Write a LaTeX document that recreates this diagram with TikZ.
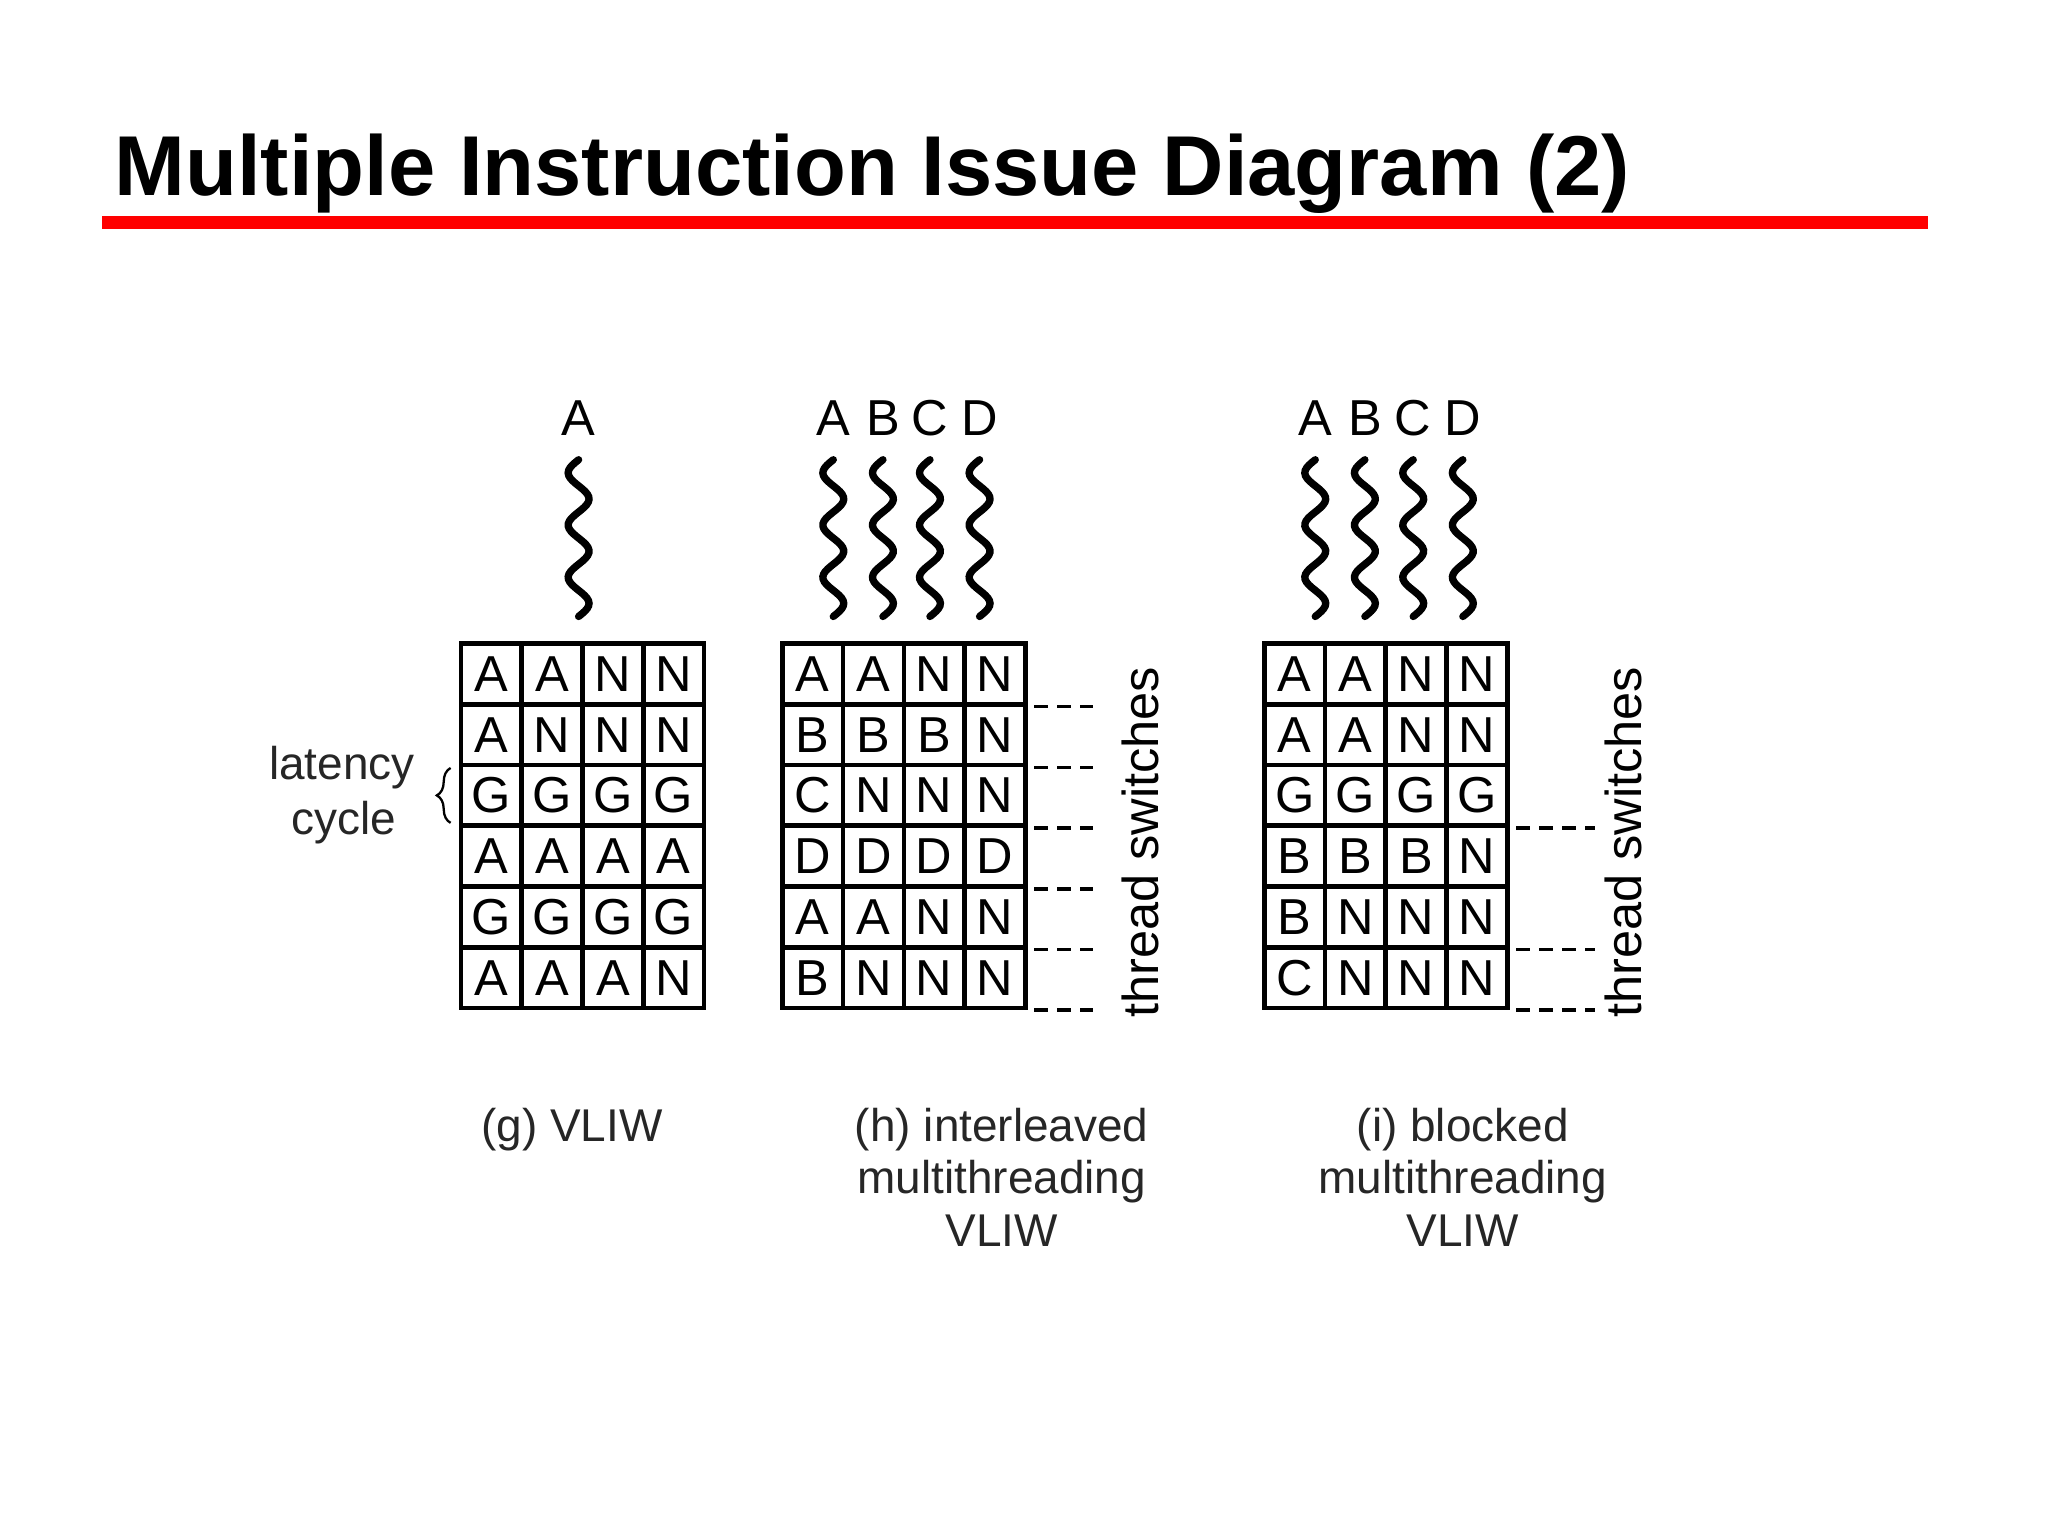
\documentclass[tikz,border=0pt]{standalone}
\usepackage{fontspec}
\setmainfont{Liberation Sans}
\usetikzlibrary{decorations.pathreplacing}
\begin{document}
\begin{tikzpicture}[x=0.01cm,y=-0.01cm,
  cell/.style={draw,line width=1pt,minimum size=0.465cm,inner sep=0pt,font=\fontsize{11pt}{12pt}\selectfont},
  gray cell/.style={cell,fill=black!20},
  lbl/.style={font=\fontsize{11pt}{12pt}\selectfont},
  captxt/.style={font=\fontsize{10pt}{11.4pt}\selectfont,align=center,text=black!85},
  sw/.style={line width=0.8pt,dash pattern=on 3pt off 2pt},
  wave/.style={line width=1.6pt,line cap=round}]
\useasboundingbox (0,0) rectangle (1568,1176);
\node[anchor=base west,font=\fontsize{18.5pt}{20pt}\selectfont\bfseries,inner sep=0] (title) at (87,150) {Multiple Instruction Issue Diagram (2)};
\fill[red] (78,165) rectangle (1476,175);
% grids
\def\grid#1#2#3{%
  \foreach \row [count=\r from 0] in {#3}{
    \foreach \c [count=\k from 0] in \row{
      \ifx\c G
        \node[gray cell] (#1-\r-\k) at ({#2+23.25+46.5*\k},{516+46.5*\r}) {};
      \else
        \node[cell] (#1-\r-\k) at ({#2+23.25+46.5*\k},{516+46.5*\r}) {\c};
      \fi
    }}}
\grid{g}{353}{{A,A,N,N},{A,N,N,N},{G,G,G,G},{A,A,A,A},{G,G,G,G},{A,A,A,N}}
\grid{h}{599}{{A,A,N,N},{B,B,B,N},{C,N,N,N},{D,D,D,D},{A,A,N,N},{B,N,N,N}}
\grid{i}{968}{{A,A,N,N},{A,A,N,N},{G,G,G,G},{B,B,B,N},{B,N,N,N},{C,N,N,N}}
% thread letters and waves
\node[lbl] (tgA) at (443,320) {A};
\draw[wave] plot[domain=0:120,samples=60] ({443-8*sin(\x*9)},{352+\x});
\foreach \n/\xx in {A/638,B/676,C/712,D/750}{
  \node[lbl] (th\n) at (\xx,320) {\n};
  \draw[wave] plot[domain=0:120,samples=60] ({\xx-8*sin(\x*9)},{352+\x});
}
\foreach \n/\xx in {A/1007,B/1045,C/1082,D/1120}{
  \node[lbl] (ti\n) at (\xx,320) {\n};
  \draw[wave] plot[domain=0:120,samples=60] ({\xx-8*sin(\x*9)},{352+\x});
}
% thread switches
\foreach \r in {0,...,5}{
  \coordinate (hs\r) at ([xshift=0.5cm]h-\r-3.south east);
  \draw[sw] ([xshift=0.05cm]h-\r-3.south east) -- (hs\r);
}
\foreach \r in {2,4,5}{
  \coordinate (is\r) at ([xshift=0.65cm]i-\r-3.south east);
  \draw[sw] ([xshift=0.05cm]i-\r-3.south east) -- (is\r);
}
\node[lbl,rotate=90] (hts) at (873,645) {thread switches};
\node[lbl,rotate=90] (its) at (1243,645) {thread switches};
% latency cycle
\node[captxt,anchor=east] (lat) at (330,588) {latency};
\node[captxt,anchor=east] (cyc) at (316,630) {cycle};
\draw[decorate,decoration={brace,amplitude=3pt},line width=0.5pt] (345,630) -- (345,588);
% captions
\node[captxt,anchor=north] (cg) at (438,836) {(g) VLIW};
\node[captxt,anchor=north] (ch) at (767,836) {(h) interleaved\\multithreading\\VLIW};
\node[captxt,anchor=north] (ci) at (1120,836) {(i) blocked\\multithreading\\VLIW};
\end{tikzpicture}
\end{document}
